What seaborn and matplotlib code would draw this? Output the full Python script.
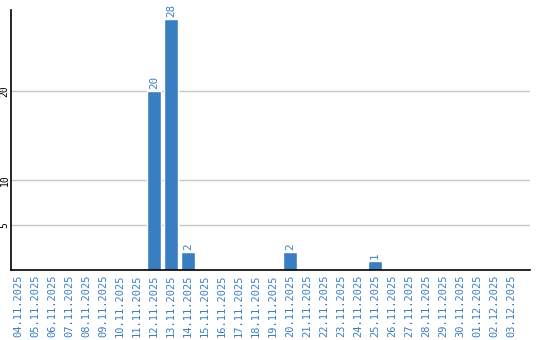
import matplotlib
matplotlib.use("Agg")
import matplotlib.pyplot as plt
import seaborn as sns
import pandas as pd

dates = ["04.11.2025", "05.11.2025", "06.11.2025", "07.11.2025", "08.11.2025",
         "09.11.2025", "10.11.2025", "11.11.2025", "12.11.2025", "13.11.2025",
         "14.11.2025", "15.11.2025", "16.11.2025", "17.11.2025", "18.11.2025",
         "19.11.2025", "20.11.2025", "21.11.2025", "22.11.2025", "23.11.2025",
         "24.11.2025", "25.11.2025", "26.11.2025", "27.11.2025", "28.11.2025",
         "29.11.2025", "30.11.2025", "01.12.2025", "02.12.2025", "03.12.2025"]
values = [0, 0, 0, 0, 0, 0, 0, 0, 20, 28, 2, 0, 0, 0, 0, 0, 2, 0, 0, 0,
          0, 1, 0, 0, 0, 0, 0, 0, 0, 0]
yticks = [5, 10, 20]

df = pd.DataFrame({"date": dates, "value": values})

sns.set_style("white")
plt.rcParams['font.family'] = ['DejaVu Sans Mono', 'DejaVu Sans']

BLUE = "#3a7ec2"
fig = plt.figure(figsize=(5.4, 3.4), dpi=100)
ax = fig.add_axes([10.5 / 540, 70 / 340, (530 - 10.5) / 540, 260 / 340])

sns.barplot(data=df, x="date", y="value", color=BLUE, width=0.82,
            saturation=1, ax=ax, zorder=3)

ax.set_xlim(-0.44, 30.12)
ax.set_ylim(0, 29.05)
ax.set_yticks(yticks)
ax.set_yticklabels([str(t) for t in yticks], rotation=90, fontsize=7,
                   rotation_mode="anchor", ha="center", va="baseline",
                   color="black")
ax.grid(axis="y", color="#c8c8c8", linewidth=1, zorder=0)
ax.tick_params(axis="y", length=0, pad=2.2)
ax.tick_params(axis="x", length=0, pad=3.5)
ax.set_xticks(range(len(dates)))
ax.set_xticklabels(dates, rotation=90, fontsize=7.5, color=BLUE)
ax.set_xlabel("")
ax.set_ylabel("")

for s in ["top", "right"]:
    ax.spines[s].set_visible(False)
for s in ["left", "bottom"]:
    ax.spines[s].set_color("black")
    ax.spines[s].set_linewidth(1.2)
ax.spines["bottom"].set_zorder(4)

for i, v in enumerate(values):
    if v > 0:
        ax.annotate(str(v), (i, v), xytext=(0, 1.5), textcoords="offset points",
                    rotation=90, ha="center", va="bottom", fontsize=7.8,
                    color=BLUE)

fig.savefig("out.png", dpi=100)
